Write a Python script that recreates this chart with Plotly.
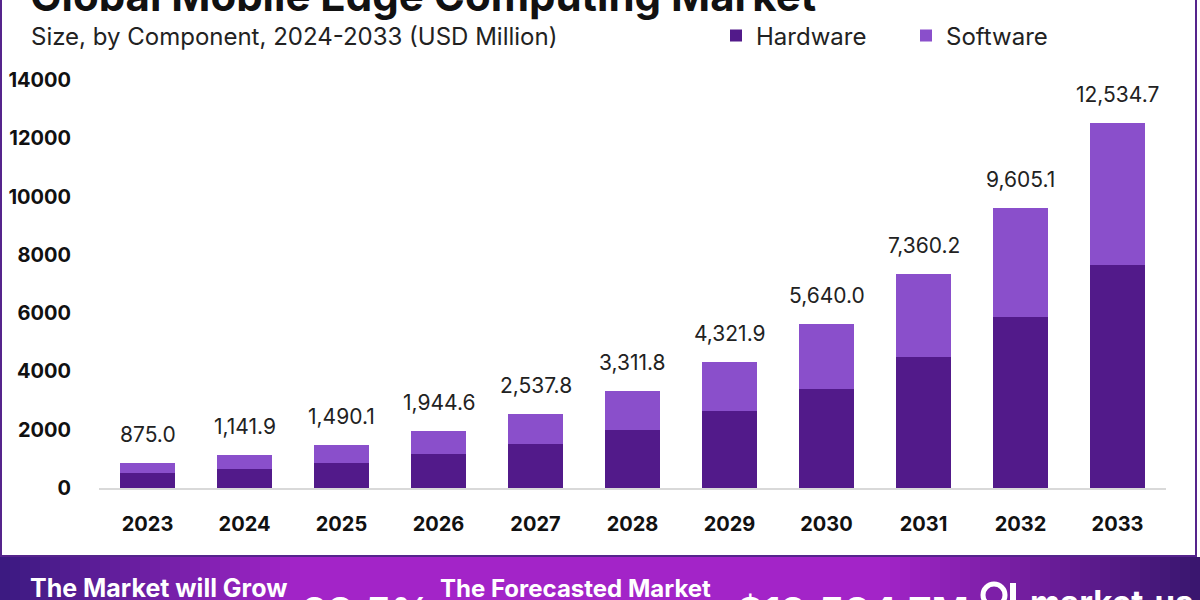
import plotly.graph_objects as go

# ---------------- data ----------------
years = ["2023", "2024", "2025", "2026", "2027", "2028", "2029", "2030", "2031", "2032", "2033"]
totals = [875.0, 1141.9, 1490.1, 1944.6, 2537.8, 3311.8, 4321.9, 5640.0, 7360.2, 9605.1, 12534.7]
hardware = [510, 665, 870, 1160, 1500, 1990, 2630, 3410, 4490, 5860, 7650]
software = [round(t - h, 1) for t, h in zip(totals, hardware)]
total_labels = [f"{t:,.1f}" for t in totals]
y_ticks = [0, 2000, 4000, 6000, 8000, 10000, 12000, 14000]

title_text = "Global Mobile Edge Computing Market"
subtitle_text = "Size, by Component, 2024-2033 (USD Million)"
cagr_text = "28.5%"
forecast_text = "$12,534.7M"

FONT = "Inter"
W, H = 1200, 600
HW_COLOR = "#521a8a"
SW_COLOR = "#8a4fcb"

fig = go.Figure()
fig.add_trace(go.Bar(x=years, y=hardware, name="Hardware", marker=dict(color=HW_COLOR, line=dict(width=0))))
fig.add_trace(go.Bar(x=years, y=software, name="Software", marker=dict(color=SW_COLOR, line=dict(width=0))))

annotations = []
for i, (tot, lab) in enumerate(zip(totals, total_labels)):
    annotations.append(dict(x=i, y=tot, xref="x", yref="y", text=lab, showarrow=False,
                            yanchor="bottom", yshift=14,
                            font=dict(family=FONT, size=21, color="#222222")))

def px_y(p):
    return 1 - p / H

def px_x(p):
    return p / W

# title (cut by top edge) and subtitle
annotations.append(dict(xref="paper", yref="paper", x=px_x(28), y=px_y(-5), xanchor="left", yanchor="middle",
                        text=f"<b>{title_text}</b>", showarrow=False,
                        font=dict(family=FONT, size=42, color="#111111")))
annotations.append(dict(xref="paper", yref="paper", x=px_x(29), y=px_y(36), xanchor="left", yanchor="middle",
                        text=subtitle_text, showarrow=False,
                        font=dict(family=FONT, size=24, color="#222222")))

# banner texts
annotations.append(dict(xref="paper", yref="paper", x=px_x(28), y=px_y(588), xanchor="left", yanchor="middle",
                        text="<b>The Market will Grow</b>", showarrow=False,
                        font=dict(family=FONT, size=25, color="white")))
annotations.append(dict(xref="paper", yref="paper", x=px_x(300), y=px_y(585), xanchor="left", yanchor="top",
                        text=f"<b>{cagr_text}</b>", showarrow=False,
                        font=dict(family=FONT, size=40, color="white")))
annotations.append(dict(xref="paper", yref="paper", x=px_x(438), y=px_y(588), xanchor="left", yanchor="middle",
                        text="<b>The Forecasted Market</b>", showarrow=False,
                        font=dict(family=FONT, size=24, color="white")))
annotations.append(dict(xref="paper", yref="paper", x=px_x(735), y=px_y(585), xanchor="left", yanchor="top",
                        text=f"<b>{forecast_text}</b>", showarrow=False,
                        font=dict(family=FONT, size=40, color="white")))
annotations.append(dict(xref="paper", yref="paper", x=px_x(1028), y=px_y(580), xanchor="left", yanchor="top",
                        text="<b>market.us</b>", showarrow=False,
                        font=dict(family=FONT, size=33, color="white")))

shapes = []
# gradient banner built from thin strips
def lerp(c1, c2, t):
    return tuple(int(round(a + (b - a) * t)) for a, b in zip(c1, c2))

dark_l = (58, 26, 128)
bright = (163, 36, 200)
dark_r = (56, 22, 110)
n = 120
for i in range(n):
    x0 = i * W / n
    xm = x0 + W / n / 2
    if xm < 300:
        c = lerp(dark_l, bright, xm / 300)
    elif xm < 880:
        c = bright
    else:
        c = lerp(bright, dark_r, (xm - 880) / 320)
    col = "rgb(%d,%d,%d)" % c
    shapes.append(dict(type="rect", xref="paper", yref="paper", x0=px_x(x0), x1=px_x(x0 + W / n + 0.5),
                       y0=0, y1=px_y(557), fillcolor=col, line=dict(width=0), layer="below"))

# card border
shapes.append(dict(type="rect", xref="paper", yref="paper", x0=px_x(1), x1=px_x(1196), y0=px_y(556), y1=px_y(-5),
                   line=dict(color="#55248c", width=2), fillcolor="rgba(0,0,0,0)", layer="below"))
# logo mark
shapes.append(dict(type="circle", xref="paper", yref="paper", x0=px_x(983), x1=px_x(1005), y0=px_y(606), y1=px_y(584),
                   line=dict(color="white", width=5)))
shapes.append(dict(type="rect", xref="paper", yref="paper", x0=px_x(1010), x1=px_x(1016), y0=px_y(600), y1=px_y(583),
                   fillcolor="white", line=dict(width=0)))

fig.update_layout(
    width=W, height=H,
    margin=dict(l=0, r=0, t=0, b=0, autoexpand=False),
    paper_bgcolor="white", plot_bgcolor="white",
    barmode="stack", bargap=0.443,
    font=dict(family=FONT, color="#111111"),
    showlegend=True,
    legend=dict(orientation="h", x=px_x(716), y=px_y(36), xanchor="left", yanchor="middle",
                font=dict(family=FONT, size=24, color="#222222"), bgcolor="rgba(0,0,0,0)",
                traceorder="normal", entrywidth=145),
    xaxis=dict(type="category", range=[-0.5, len(years) - 0.5], domain=[px_x(99), px_x(1166)],
               showline=True, linecolor="#d9d9d9", linewidth=1.5,
               ticks="", showgrid=False, zeroline=False, ticklabelstandoff=17, automargin=False,
               tickfont=dict(family=FONT, size=20, color="#111111", weight="bold")),
    yaxis=dict(domain=[px_y(488), px_y(80)], range=[0, 14000], tickvals=y_ticks, tickformat="d",
               showgrid=False, zeroline=False, showline=False, ticks="", ticklabelstandoff=27, automargin=False,
               tickfont=dict(family=FONT, size=20, color="#111111", weight="bold")),
    annotations=annotations,
    shapes=shapes,
)

fig.write_html("out.html", config={"displayModeBar": False},
               post_script="document.body.style.margin='0';document.body.style.overflow='hidden';")
